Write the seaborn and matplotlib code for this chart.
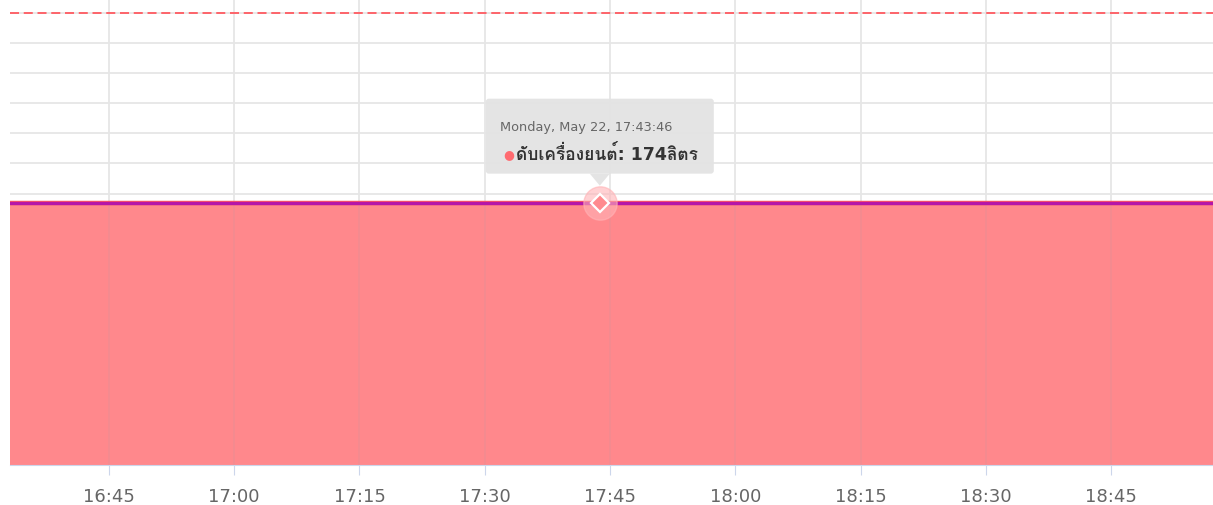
import pandas as pd
import matplotlib
matplotlib.use('Agg')
import matplotlib.pyplot as plt
import matplotlib.dates as mdates
import matplotlib.patches as mpatches
import matplotlib.transforms as mtransforms
from matplotlib import font_manager as fm
from fontTools.ttLib import TTFont
import seaborn as sns

# ข้อมูล
times = ['2023-05-22 16:33:10', '2023-05-22 17:43:46', '2023-05-22 18:57:10']
fuel = [174, 174, 174]
hover_time = '2023-05-22 17:43:46'
hover_value = 174
limit_value = 300
series_name = 'ดับเครื่องยนต์'
unit = 'ลิตร'

df = pd.DataFrame({'time': pd.to_datetime(times), 'fuel': fuel})


# หาฟอนต์ที่มีอักษรไทย / ฟอนต์แคบ
def find_fonts():
    thai, narrow = [], []
    for f in fm.fontManager.ttflist:
        n = f.name
        if 'narrow' in n.lower() or 'condensed' in n.lower() or f.stretch in ('condensed', 'semi-condensed'):
            if n not in narrow:
                narrow.append(n)
        if n in thai:
            continue
        try:
            cmap = TTFont(f.fname, fontNumber=0, lazy=True).getBestCmap()
            if cmap and 0x0E14 in cmap and 0x0E25 in cmap:
                thai.append(n)
        except Exception:
            pass
    return thai, narrow


thai_fonts, narrow_fonts = find_fonts()
base = ['DejaVu Sans', 'Noto Sans']

sns.set_style('white')
plt.rcParams['font.family'] = narrow_fonts[:1] + base + thai_fonts[:2]
plt.rcParams['lines.scale_dashes'] = False

fig = plt.figure(figsize=(12.13, 5.06), dpi=100)
ax = fig.add_axes([10 / 1213, 40 / 506, 1203 / 1213, 466 / 506])

# พื้นที่
ax.fill_between(df['time'], 0, df['fuel'], color='#FF888C', lw=0, zorder=2)
sns.lineplot(x='time', y='fuel', data=df, color='#FF5A60', lw=3.2, ax=ax, zorder=3)
sns.lineplot(x='time', y='fuel', data=df, color='#B516A8', lw=2.4, ax=ax, zorder=4)

# เส้นขีดจำกัด
ax.axhline(limit_value, color='#FF5A60', lw=1.3, dashes=(6.5, 3.4), zorder=3)

ax.set_xlim(df['time'].min(), df['time'].max())
ax.set_ylim(0, 309.1)
ax.set_yticks(range(0, 301, 20))
ax.xaxis.set_major_locator(mdates.MinuteLocator(byminute=[0, 15, 30, 45]))
ax.xaxis.set_major_formatter(mdates.DateFormatter('%H:%M'))

ax.grid(True, color='#E6E6E6', lw=1.3, zorder=0)
ax.set_axisbelow(True)
# เส้นกริดแนวตั้งจาง ๆ ในพื้นที่สี
ax.vlines(ax.get_xticks(), 0, hover_value, color='#9AA0B0', lw=1.2, alpha=0.12, zorder=2.5)
for s in ['top', 'left', 'right']:
    ax.spines[s].set_visible(False)
ax.spines['bottom'].set_color('#CCD6EB')
ax.spines['bottom'].set_zorder(5)
ax.tick_params(axis='x', direction='out', length=7.5, width=0.8, color='#CCD6EB',
               labelcolor='#666666', labelsize=13 if narrow_fonts else 12, pad=8, bottom=True)
ax.tick_params(axis='y', left=False, labelleft=False)
ax.set_xlabel('')
ax.set_ylabel('')

# จุดที่เลือก + tooltip
hx = mdates.date2num(pd.to_datetime(hover_time))
px, py = ax.transData.transform((hx, hover_value))
ax.plot([hx], [hover_value], 'o', ms=24, color='#FFB3B6', alpha=0.6, zorder=5)
ax.plot([hx], [hover_value], 'D', ms=9, mfc='#FF8A8E', mec='white', mew=1.6, zorder=6)

ident = mtransforms.IdentityTransform()
box = mpatches.FancyBboxPatch((px - 114, py + 29), 228, 75, boxstyle='round,pad=0,rounding_size=3',
                              fc='#E3E3E3', ec='none', alpha=0.95, transform=ident, zorder=7)
fig.patches.append(box)
tri = mpatches.Polygon([(px - 10, py + 29), (px + 10, py + 29), (px, py + 17)], closed=True,
                       fc='#E3E3E3', ec='none', alpha=0.95, transform=ident, zorder=7)
fig.patches.append(tri)

stamp = pd.to_datetime(hover_time).strftime('%A, %b %d, %H:%M:%S')
fig.text(px - 100, py + 76, stamp, transform=ident, fontsize=9.3, color='#666666', va='center', zorder=8)
fig.text(px - 97, py + 49, '●', transform=ident, fontsize=9, color='#FF6B70', va='center', zorder=8)
fig.text(px - 84, py + 49, f'{series_name}: {hover_value}{unit}', transform=ident, fontsize=12.5,
         fontweight='bold', color='#333333', va='center', zorder=8)

plt.savefig('out.png', dpi=100)
